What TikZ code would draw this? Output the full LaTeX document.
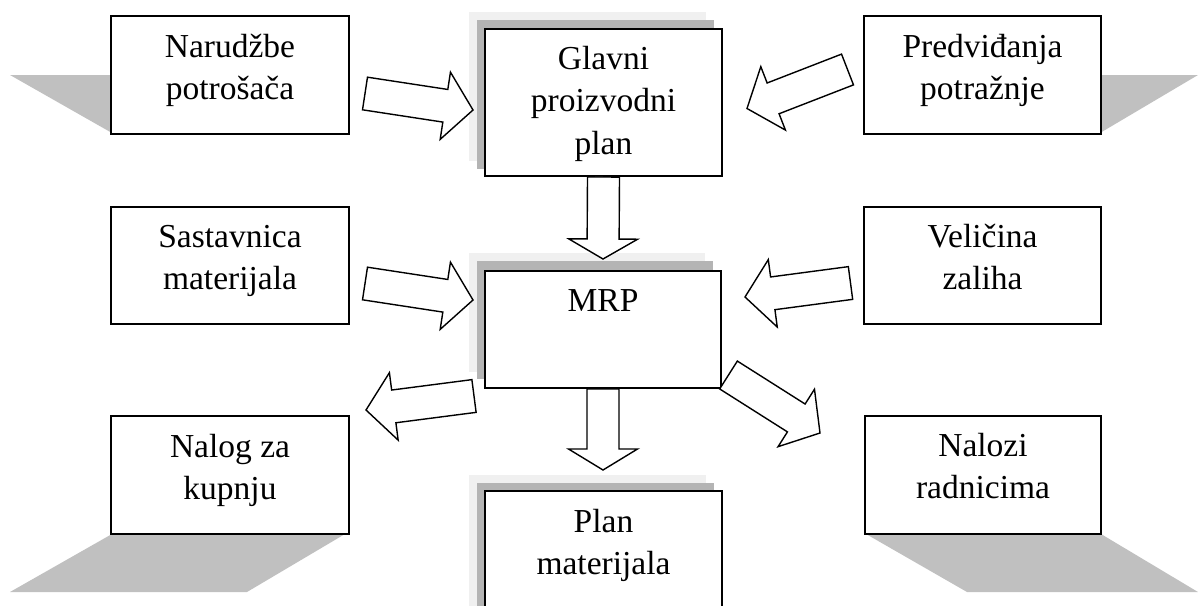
\documentclass[tikz,border=0pt]{standalone}
\usepackage{fontspec}
\setmainfont{Liberation Serif}
\usetikzlibrary{calc}
\definecolor{shadeS}{RGB}{192,192,192}
\definecolor{shadeD}{RGB}{180,180,180}
\definecolor{shadeL}{RGB}{240,240,240}
% block arrow: #1 tail, #2 tip, #3 shaft half width, #4 head half width, #5 head length
\newcommand{\blockarrow}[5]{%
  \draw[barrow] let \p1=(#1), \p2=(#2),
    \n1={atan2(\y2-\y1,\x2-\x1)}, \n2={veclen(\x2-\x1,\y2-\y1)} in
    ($(\p1)+(\n1+90:#3)$) -- ($(\p1)+(\n1:{\n2-#5})+(\n1+90:#3)$) --
    ($(\p1)+(\n1:{\n2-#5})+(\n1+90:#4)$) -- (\p2) --
    ($(\p1)+(\n1:{\n2-#5})+(\n1-90:#4)$) -- ($(\p1)+(\n1:{\n2-#5})+(\n1-90:#3)$) --
    ($(\p1)+(\n1-90:#3)$) -- cycle;}
\newcommand{\tl}[1]{\begin{tabular}[t]{@{}c@{}}#1\end{tabular}}
\begin{document}
\begin{tikzpicture}[x=1pt,y=1pt,
  box/.style={draw, line width=2pt, fill=white, rectangle, inner sep=0pt},
  lbl/.style={anchor=base, inner sep=0pt, font=\fontsize{33.5}{42.5}\selectfont},
  barrow/.style={draw, line width=1.4pt, fill=white, line join=miter}]
\useasboundingbox (0,0) rectangle (1198,-605);
\clip (0,0) rectangle (1198,-605);

% side shadows
\fill[shadeS] (10,-75) -- (112,-75) -- (112,-133) -- cycle;
\fill[shadeS] (1198,-75) -- (1100,-75) -- (1100,-133) -- cycle;
\fill[shadeS] (112,-534) -- (345,-534) -- (247,-592) -- (10,-592) -- cycle;
\fill[shadeS] (866,-534) -- (1101,-534) -- (1198,-592) -- (967,-592) -- cycle;

% layered shadows of the central boxes
\fill[shadeL] (469,-12) rectangle (706,-161);
\fill[shadeD] (477,-20) rectangle (714,-169);
\fill[shadeL] (469,-253) rectangle (705,-372);
\fill[shadeD] (477,-261) rectangle (713,-379);
\fill[shadeL] (469,-475) rectangle (706,-640);
\fill[shadeD] (477,-483) rectangle (714,-640);

% boxes
\node[box, minimum width=238pt, minimum height=118pt] (narud) at (230,-75) {};
\node[box, minimum width=237pt, minimum height=147pt] (glavni) at (603.5,-102.5) {};
\node[box, minimum width=237pt, minimum height=118pt] (predv) at (982.5,-75) {};
\node[box, minimum width=238pt, minimum height=117pt] (sast) at (230,-265.5) {};
\node[box, minimum width=237pt, minimum height=117pt] (velic) at (982.5,-265.5) {};
\node[box, minimum width=236pt, minimum height=117pt] (mrp) at (603,-329.5) {};
\node[box, minimum width=238pt, minimum height=118pt] (nalog) at (230,-475) {};
\node[box, minimum width=236pt, minimum height=118pt] (nalozi) at (983,-475) {};
\node[box, minimum width=237pt, minimum height=150pt] (plan) at (603.5,-566) {};

% texts
\node[lbl] (narudT) at ($(narud.north)+(0,-42)$) {\tl{Narudžbe\\potrošača}};
\node[lbl] (glavniT) at ($(glavni.north)+(0,-41)$) {\tl{Glavni\\proizvodni\\plan}};
\node[lbl] (predvT) at ($(predv.north)+(0,-42)$) {\tl{Predviđanja\\potražnje}};
\node[lbl] (sastT) at ($(sast.north)+(0,-41)$) {\tl{Sastavnica\\materijala}};
\node[lbl] (velicT) at ($(velic.north)+(0,-41)$) {\tl{Veličina\\zaliha}};
\node[lbl] (mrpT) at ($(mrp.north)+(0,-41)$) {MRP};
\node[lbl] (nalogT) at ($(nalog.north)+(0,-42)$) {\tl{Nalog za\\kupnju}};
\node[lbl] (naloziT) at ($(nalozi.north)+(0,-41)$) {\tl{Nalozi\\radnicima}};
\node[lbl] (planT) at ($(plan.north)+(0,-42)$) {\tl{Plan\\materijala}};

% arrow end points
\coordinate (a1s) at (365,-93.5);   \coordinate (a1e) at (473,-110);
\coordinate (a2s) at (847.5,-69.5); \coordinate (a2e) at (747,-108.5);
\coordinate (a3e) at (603,-259);
\coordinate (a4s) at (365,-283.5);  \coordinate (a4e) at (473,-300);
\coordinate (a5s) at (850.5,-283);  \coordinate (a5e) at (745,-297);
\coordinate (a6s) at (474,-396);    \coordinate (a6e) at (366,-410);
\coordinate (a7e) at (603,-470);
\coordinate (a8s) at (728.5,-375);  \coordinate (a8e) at (820,-433);

% block arrows
\blockarrow{a1s}{a1e}{16.5}{34}{28}
\blockarrow{a2s}{a2e}{16.5}{34}{28}
\blockarrow{glavni.south}{a3e}{16}{34.5}{20}
\blockarrow{a4s}{a4e}{16.5}{34}{28}
\blockarrow{a5s}{a5e}{16.5}{34}{28}
\blockarrow{a6s}{a6e}{16.5}{34}{28}
\blockarrow{mrp.south}{a7e}{16}{34.5}{21}
\blockarrow{a8s}{a8e}{16.5}{34}{28}
\end{tikzpicture}
\end{document}
